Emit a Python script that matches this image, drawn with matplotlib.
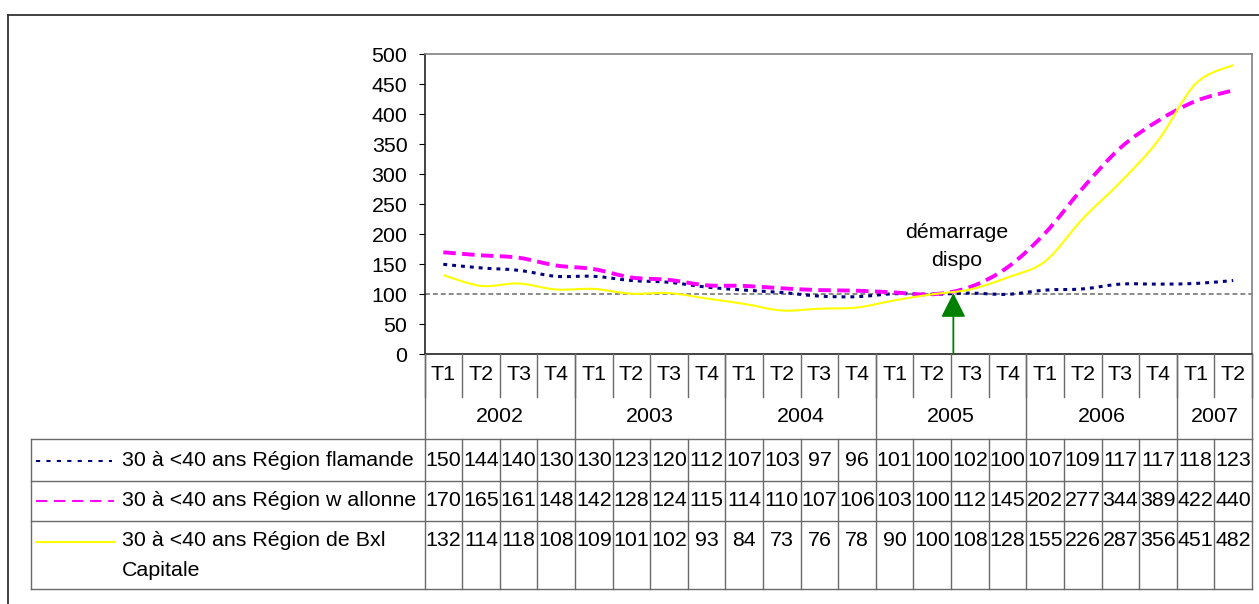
import matplotlib
matplotlib.use("Agg")
import matplotlib.pyplot as plt
from matplotlib.path import Path
from matplotlib.patches import PathPatch
from matplotlib.lines import Line2D
from matplotlib.transforms import blended_transform_factory

plt.rcParams['font.family'] = ['Liberation Sans', 'DejaVu Sans']
plt.rcParams['lines.scale_dashes'] = False

# ---------------- data ----------------
quarters = ["T1", "T2", "T3", "T4"] * 5 + ["T1", "T2"]
years = ["2002", "2003", "2004", "2005", "2006", "2007"]
year_spans = [4, 4, 4, 4, 4, 2]
label_flamande = "30 à <40 ans Région flamande"
label_wallonne = "30 à <40 ans Région w allonne"
label_bxl = ["30 à <40 ans Région de Bxl", "Capitale"]
flamande = [150, 144, 140, 130, 130, 123, 120, 112, 107, 103, 97, 96,
            101, 100, 102, 100, 107, 109, 117, 117, 118, 123]
wallonne = [170, 165, 161, 148, 142, 128, 124, 115, 114, 110, 107, 106,
            103, 100, 112, 145, 202, 277, 344, 389, 422, 440]
bxl = [132, 114, 118, 108, 109, 101, 102, 93, 84, 73, 76, 78,
       90, 100, 108, 128, 155, 226, 287, 356, 451, 482]
yticks = list(range(0, 501, 50))
annot_text = ["démarrage", "dispo"]
annot_x = 13.56
annot_top = 102

FS = 15.4
W, H = 1259, 604
fig = plt.figure(figsize=(W / 100, H / 100), dpi=100)

L, R, T, B = 424.5, 1252.0, 54.3, 354.3
ax = fig.add_axes([L / W, 1 - B / H, (R - L) / W, (B - T) / H])
n = len(quarters)
ax.set_xlim(-0.5, n - 0.5)
ax.set_ylim(0, 500)
ax.set_yticks(yticks)
ax.set_xticks([])
ax.tick_params(axis='y', direction='out', length=4.3, width=0.8, pad=8,
               labelsize=FS, colors='#000000')
for s in ['top', 'right']:
    ax.spines[s].set_color('#808080')
    ax.spines[s].set_linewidth(1.2)
for s in ['left', 'bottom']:
    ax.spines[s].set_color('#222222')
    ax.spines[s].set_linewidth(1.2)

ax.axhline(100, color='#808080', lw=1.3, linestyle=(0, (3.5, 2.2)), zorder=1)


def smooth_path(vals):
    pts = [(float(i), float(v)) for i, v in enumerate(vals)]
    verts = [pts[0]]
    codes = [Path.MOVETO]
    m = len(pts)
    for i in range(m - 1):
        p0 = pts[i - 1] if i > 0 else pts[i]
        p1 = pts[i]
        p2 = pts[i + 1]
        p3 = pts[i + 2] if i + 2 < m else pts[i + 1]
        c1 = (p1[0] + (p2[0] - p0[0]) / 6, p1[1] + (p2[1] - p0[1]) / 6)
        c2 = (p2[0] - (p3[0] - p1[0]) / 6, p2[1] - (p3[1] - p1[1]) / 6)
        verts += [c1, c2, p2]
        codes += [Path.CURVE4] * 3
    return Path(verts, codes)


series = [
    (flamande, '#000080', 2.2, (0, (2.8, 3.6))),
    (wallonne, '#FF00FF', 2.8, (0, (9.0, 4.6))),
    (bxl, '#FFFF00', 1.5, '-'),
]
for vals, col, lw, ls in series:
    ax.add_patch(PathPatch(smooth_path(vals), fill=False, edgecolor=col,
                           lw=lw, linestyle=ls, capstyle='butt', zorder=3))

# annotation
ax.annotate('', xy=(annot_x, annot_top), xytext=(annot_x, 0),
            arrowprops=dict(arrowstyle='-|>,head_length=1.5,head_width=0.76',
                            color='#008000', lw=1.3, shrinkA=0, shrinkB=0,
                            mutation_scale=10), zorder=5)
ax.text(13.65, (B - 232) / 0.6, annot_text[0], ha='center', va='center', fontsize=FS)
ax.text(13.65, (B - 260) / 0.6, annot_text[1], ha='center', va='center', fontsize=FS)

# ---------------- table ----------------
bt = blended_transform_factory(ax.transData, fig.transFigure)


def fy(y):
    return 1 - y / H


def fx(x):
    return x / W


gc = '#6a6a6a'
glw = 1.0
y_trow_end = 397
y_data_top = 439.3
row_lines = [439.3, 481, 520.7, 588.7]

boundaries = [i - 0.5 for i in range(n + 1)]
year_bounds = [-0.5]
acc = -0.5
for sp in year_spans:
    acc += sp
    year_bounds.append(acc)
for b in boundaries:
    fig.add_artist(Line2D([b, b], [fy(B), fy(y_trow_end)], transform=bt, color=gc, lw=glw))
    fig.add_artist(Line2D([b, b], [fy(y_data_top), fy(588.7)], transform=bt, color=gc, lw=glw))
for b in year_bounds:
    fig.add_artist(Line2D([b, b], [fy(B), fy(y_data_top)], transform=bt, color=gc, lw=glw))

for y in row_lines:
    fig.add_artist(Line2D([fx(30.6), fx(R)], [fy(y), fy(y)], transform=fig.transFigure,
                          color=gc, lw=glw))
fig.add_artist(Line2D([fx(30.6), fx(30.6)], [fy(439.3), fy(588.7)],
                      transform=fig.transFigure, color=gc, lw=glw))

for i, q in enumerate(quarters):
    fig.text(i, fy(374), q, transform=bt, ha='center', va='center', fontsize=FS)
start = -0.5
for yr, sp in zip(years, year_spans):
    fig.text(start + sp / 2, fy(416), yr, transform=bt, ha='center', va='center', fontsize=FS)
    start += sp

for i in range(n):
    fig.text(i, fy(461), str(flamande[i]), transform=bt, ha='center', va='center', fontsize=FS)
    fig.text(i, fy(501), str(wallonne[i]), transform=bt, ha='center', va='center', fontsize=FS)
    fig.text(i, fy(541), str(bxl[i]), transform=bt, ha='center', va='center', fontsize=FS)

fig.add_artist(Line2D([fx(36), fx(112)], [fy(461), fy(461)], transform=fig.transFigure,
                      color='#000080', lw=1.5, linestyle=(0, (3.0, 4.5))))
fig.add_artist(Line2D([fx(36), fx(114)], [fy(501), fy(501)], transform=fig.transFigure,
                      color='#FF00FF', lw=1.5, linestyle=(0, (8.0, 5.0))))
fig.add_artist(Line2D([fx(36), fx(114)], [fy(542), fy(542)], transform=fig.transFigure,
                      color='#FFFF00', lw=1.5))
fig.text(fx(122), fy(461), label_flamande, ha='left', va='center', fontsize=FS)
fig.text(fx(122), fy(501), label_wallonne, ha='left', va='center', fontsize=FS)
fig.text(fx(122), fy(541), label_bxl[0], ha='left', va='center', fontsize=FS)
fig.text(fx(122), fy(571), label_bxl[1], ha='left', va='center', fontsize=FS)

fig.add_artist(Line2D([fx(8), fx(8)], [fy(15), fy(H + 2)], transform=fig.transFigure,
                      color='#333333', lw=1.3))
fig.add_artist(Line2D([fx(8), fx(W + 2)], [fy(15), fy(15)], transform=fig.transFigure,
                      color='#333333', lw=1.3))

fig.savefig("out.png", dpi=100)
